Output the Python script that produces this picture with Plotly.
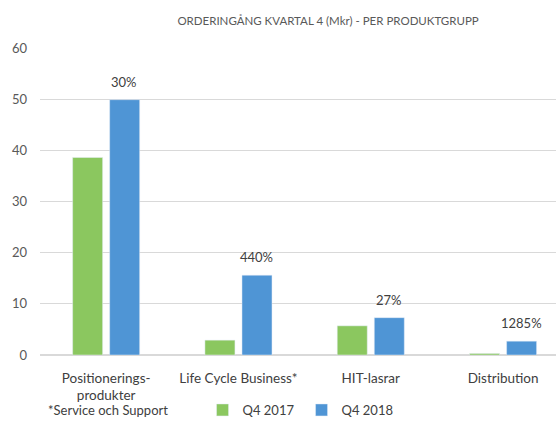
import plotly.graph_objects as go

# Data
categories = ["Positionerings-<br>produkter", "Life Cycle Business*", "HIT-lasrar", "Distribution"]
q4_2017 = [38.6, 2.9, 5.7, 0.3]
q4_2018 = [49.9, 15.6, 7.3, 2.7]
growth_labels = ["30%", "440%", "27%", "1285%"]

green = "#8BC75F"
blue = "#4F95D5"
grey_text = "#595959"
dark_text = "#404040"

fig = go.Figure()
fig.add_trace(go.Bar(x=categories, y=q4_2017, name="Q4 2017", marker_color=green))
fig.add_trace(go.Bar(x=categories, y=q4_2018, name="Q4 2018", marker_color=blue))

# growth percentages above the 2018 bars
for cat, val, lab in zip(categories, q4_2018, growth_labels):
    fig.add_annotation(x=cat, y=val, text=lab, showarrow=False,
                       xshift=18, yshift=8, yanchor="bottom",
                       font=dict(size=13, color=dark_text))

fig.add_annotation(text="*Service och Support", xref="paper", yref="paper",
                   x=0.012, y=-0.18, xanchor="left", yanchor="middle",
                   showarrow=False, font=dict(size=13, color=dark_text))

fig.update_layout(
    width=556, height=425,
    margin=dict(l=40, r=0, t=48, b=63),
    paper_bgcolor="white", plot_bgcolor="white",
    font=dict(family="Lato, Open Sans, sans-serif", size=13, color=grey_text),
    title=dict(text="ORDERINGÅNG KVARTAL 4 (Mkr) - PER PRODUKTGRUPP",
               x=0.59, xanchor="center", y=0.95, yanchor="middle",
               font=dict(size=11.5, color=grey_text)),
    barmode="group", bargap=0.44, bargroupgap=0.19,
    legend=dict(orientation="h", x=0.315, xanchor="left", y=-0.18, yanchor="middle",
                font=dict(size=13, color=dark_text), entrywidth=54,
                itemwidth=30),
    showlegend=True,
)
fig.update_xaxes(range=[-0.5, 3.4], showline=False, ticks="", automargin=False,
                 tickfont=dict(color=dark_text, size=13.5), ticklabelstandoff=13)
fig.update_yaxes(range=[0, 60], dtick=10, showgrid=True, gridcolor="#D9D9D9",
                 zeroline=True, zerolinecolor="#D9D9D9", ticks="", automargin=False,
                 ticklabelstandoff=12)

fig.write_html("out.html", config={"displayModeBar": False},
               post_script="document.body.style.margin='0';")
